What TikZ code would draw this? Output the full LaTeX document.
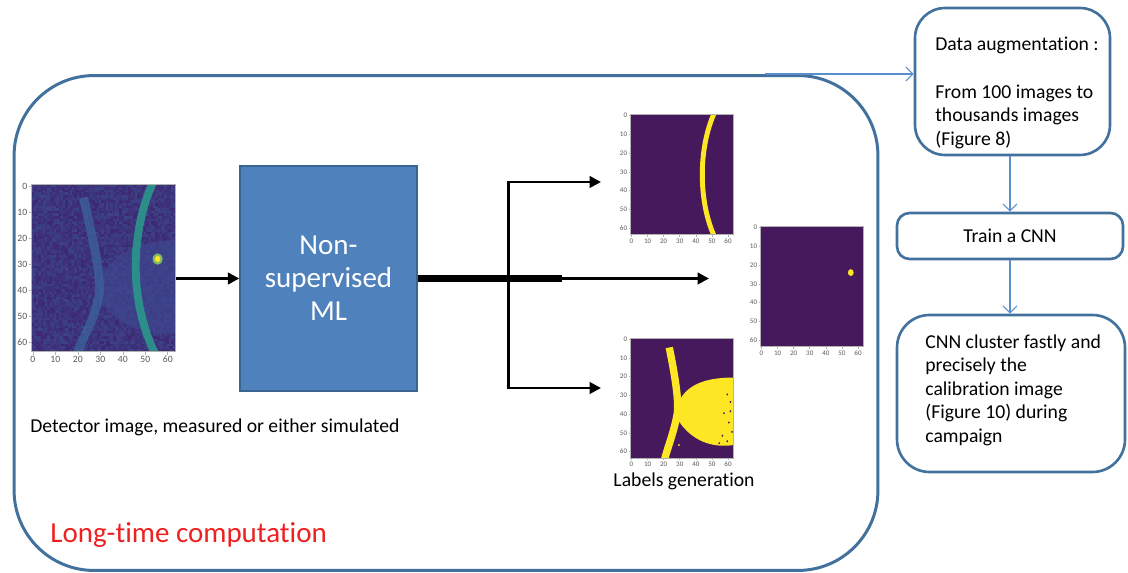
\documentclass[tikz,border=0pt]{standalone}
\usepackage{fontspec}
\setmainfont[Ligatures=NoCommon]{Carlito}
\usepackage{tikz}
\usetikzlibrary{arrows.meta,positioning,calc}
\usepackage{xcolor}

\definecolor{framecol}{HTML}{41719C}
\definecolor{mlfill}{HTML}{4F81BD}
\definecolor{mlline}{HTML}{3A6491}
\definecolor{flowcol}{HTML}{5B8FCB}
\definecolor{vdark}{HTML}{46195C}
\definecolor{vyellow}{HTML}{FDE725}
\definecolor{noiseA}{HTML}{3E1D6C}
\definecolor{noiseB}{HTML}{3B4C8C}
\definecolor{bandblue}{HTML}{3C66A0}
\definecolor{bandteal}{HTML}{2A9C8C}
\definecolor{fancol}{HTML}{3E4A92}
\definecolor{redtxt}{HTML}{EE2020}

\tikzset{
  bigframe/.style={draw=framecol, line width=1.7pt, rounded corners=1.6cm},
  mlbox/.style={draw=mlline, fill=mlfill, line width=0.8pt, text=white, align=center,
    font=\fontsize{16.5}{18.8}\selectfont},
  cnnbox/.style={draw=framecol, line width=1.5pt},
  plotbox/.style={inner sep=0pt},
  flow/.style={black, line width=1.7pt, -{Triangle[length=6.5pt,width=6.5pt]}},
  thinflow/.style={flowcol, line width=0.6pt, -{Straight Barb[length=4pt,width=8pt]}},
  txt/.style={font=\fontsize{11.2}{13.4}\selectfont, inner sep=0pt},
}

% frame and ticks of a 64x64 imshow plot, in pixel units of the plot
\newcommand{\plotticks}[1]{%
  \draw[gray!60, line width=0.3pt] (0,0) rectangle (64,64);
  \foreach \t in {0,10,...,60}{
    \draw[gray!60, line width=0.3pt] (\t+0.5,64) -- ++(0,1.2)
      node[below, inner sep=0.8pt, text=black!65, font=#1] {\t};
    \draw[gray!60, line width=0.3pt] (0,\t+0.5) -- ++(-1.2,0)
      node[left, inner sep=0.8pt, text=black!65, font=#1] {\t};}
}

\begin{document}
\begin{tikzpicture}[x=0.02cm, y=-0.02cm]
\useasboundingbox (0,0) rectangle (1128,573);

% long computation part
\node[bigframe, minimum width=17.28cm, minimum height=9.9cm] (frame) at (446,323) {};

\node[plotbox, minimum width=2.88cm, minimum height=3.34cm] (det) at (104,268.5) {};
\begin{scope}[shift={(det.north west)}, x=0.045cm, y=-0.0522cm]
  \begin{scope}
    \clip (0,0) rectangle (64,64);
    \pgfmathsetseed{42}
    \foreach \i in {0,...,63}{
      \foreach \j in {0,...,63}{
        \pgfmathsetmacro\m{int(20+rnd*60)}
        \fill[noiseA!\m!noiseB] (\i,\j) rectangle ++(1.05,1.05);}}
    \fill[fancol, opacity=0.6] (30,38) .. controls (34,28) and (44,22) .. (64,21)
      -- (64,57) .. controls (48,58) and (36,52) .. (30,44) -- cycle;
    \draw[bandblue, line width=5pt, opacity=0.7] (23,5) .. controls (27,20) and (31,34) .. (30,42)
      .. controls (28,52) and (23,58) .. (20,65);
    \draw[bandteal, line width=4.5pt, opacity=0.85] (54,-1) .. controls (44,18) and (43,44) .. (55,65);
    \fill[bandteal!60!vyellow] (56,28.5) circle (2.2);
    \fill[vyellow] (56,28.5) circle (1.2);
  \end{scope}
  \plotticks{\fontsize{5.5}{6}\selectfont}
\end{scope}

\node[mlbox, minimum width=3.54cm, minimum height=4.5cm] (ml) at (328.5,278.5)
  {Non-\\supervised\\ML};

% clustered labels
\node[plotbox, minimum width=2.06cm, minimum height=2.4cm] (lab1) at (682.5,175) {};
\node[plotbox, minimum width=2.06cm, minimum height=2.4cm] (lab2) at (812.5,287) {};
\node[plotbox, minimum width=2.06cm, minimum height=2.4cm] (lab3) at (682.5,398.5) {};

\begin{scope}[shift={(lab1.north west)}, x=0.0322cm, y=-0.0375cm]
  \begin{scope}
    \clip (0,0) rectangle (64,64);
    \fill[vdark] (0,0) rectangle (64,64);
    \draw[vyellow, line width=2.8pt] (52,-1) .. controls (42,18) and (42,46) .. (52,65);
  \end{scope}
  \plotticks{\fontsize{4}{4.5}\selectfont}
\end{scope}

\begin{scope}[shift={(lab2.north west)}, x=0.0322cm, y=-0.0375cm]
  \fill[vdark] (0,0) rectangle (64,64);
  \fill[vyellow] (56,24.5) circle (1.8);
  \plotticks{\fontsize{4}{4.5}\selectfont}
\end{scope}

\begin{scope}[shift={(lab3.north west)}, x=0.0322cm, y=-0.0375cm]
  \begin{scope}
    \clip (0,0) rectangle (64,64);
    \fill[vdark] (0,0) rectangle (64,64);
    \fill[vyellow] (29,36) .. controls (33,26) and (44,21) .. (64,21)
      -- (64,57) .. controls (48,59) and (36,53) .. (29,43) -- cycle;
    \draw[vyellow, line width=4.2pt] (24,5) .. controls (27,18) and (30,32) .. (29,40)
      .. controls (27,50) and (23,58) .. (21,65);
    \foreach \p in {(60,30),(62,34),(58,40),(61,45),(63,50),(57,52),(60,55),(55,56),(62,39)}
      \fill[vdark] \p circle (0.6);
    \fill[vyellow] (30,57) circle (0.6);
  \end{scope}
  \plotticks{\fontsize{4}{4.5}\selectfont}
\end{scope}

% connectors of the clustering
\coordinate (split) at (508,278.5);
\coordinate (up) at (508,182);
\coordinate (down) at (508,388);
\coordinate (tip1) at (601,182);
\coordinate (tip2) at (709,278.5);
\coordinate (tip3) at (601,388);

\draw[flow] (det.east |- ml.west) -- (ml.west);
\draw[black, line width=3.6pt] (ml.east) -- (split) -- ++(54,0);
\draw[flow, {Triangle[length=6.5pt,width=6.5pt]}-{Triangle[length=6.5pt,width=6.5pt]}]
  (tip1) -- (up) -- (down) -- (tip3);
\draw[flow] (split) -- (tip2);

\node[txt, anchor=west] (detlabel) at (30,427) {Detector image, measured or either simulated};
\node[txt] (genlabel) at (684,481) {Labels generation};
\node[anchor=west, inner sep=0pt, text=redtxt, font=\fontsize{16.5}{19}\selectfont]
  (longtime) at (50,535) {Long-time computation};

% CNN part
\node[cnnbox, rounded corners=0.6cm, minimum width=3.9cm, minimum height=2.94cm] (aug) at (1012.5,81.5) {};
\node[txt, anchor=west, align=left] (augtext) at (935,93)
  {Data augmentation :\\[13.4pt]From 100 images to\\thousands images\\(Figure 8)};
\node[cnnbox, txt, rounded corners=0.25cm, minimum width=4.52cm, minimum height=0.92cm] (train) at (1010,236)
  {Train a CNN};
\node[cnnbox, rounded corners=0.65cm, minimum width=4.56cm, minimum height=3.14cm] (cnn) at (1011,393.5) {};
\node[txt, anchor=west, align=left] (cnntext) at (925,390)
  {CNN cluster fastly and\\precisely the\\calibration image\\(Figure 10) during\\campaign};

\coordinate (tap) at (765,74);
\draw[thinflow] (tap) -- (aug.west |- tap);
\draw[thinflow] (train.north |- aug.south) -- (train.north);
\draw[thinflow] (train.south) -- (train.south |- cnn.north);
\end{tikzpicture}
\end{document}
